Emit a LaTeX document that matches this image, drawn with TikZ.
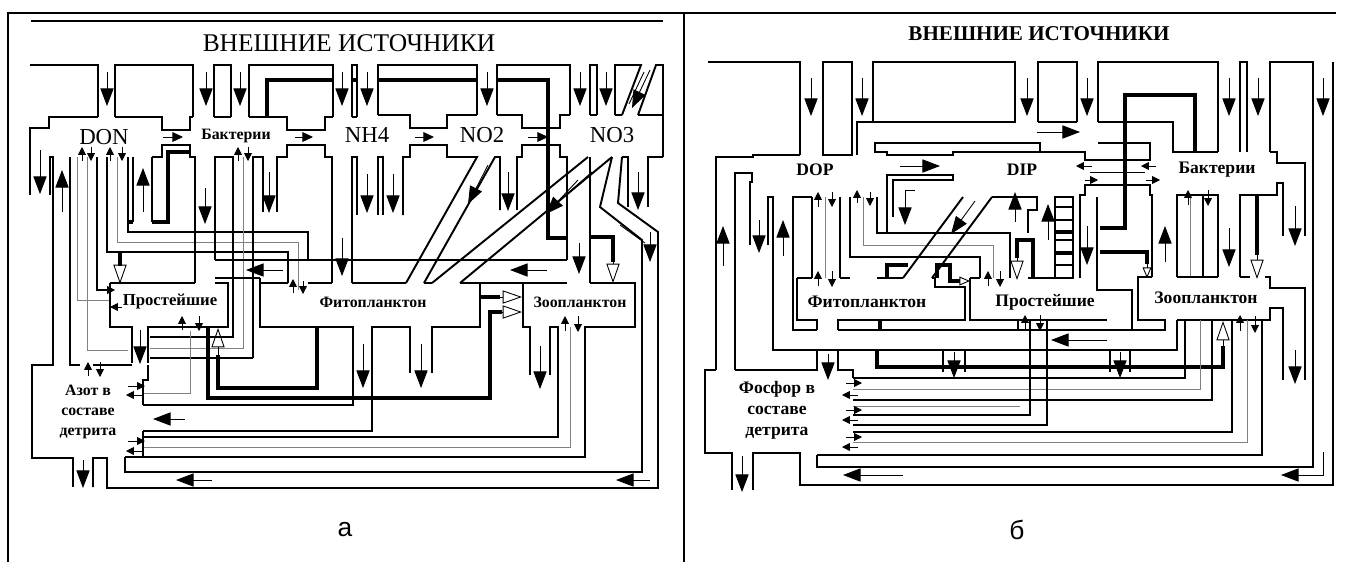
\documentclass[tikz,border=0pt]{standalone}
\usepackage{fontspec}
\setmainfont{Liberation Serif}
\setsansfont{Liberation Sans}
\usepackage{tikz}
\usetikzlibrary{arrows.meta}

\begin{document}
\begin{tikzpicture}[x=0.02cm, y=-0.02cm,
  wall/.style={line width=1.1pt},
  heavy/.style={line width=2.2pt},
  greyline/.style={line width=0.5pt, black!50},
  flow/.style={line width=0.5pt, -{Triangle[width=7.5pt,length=10pt]}},
  hollow/.style={line width=0.5pt, -{Triangle[open,width=7.5pt,length=11pt]}},
  smallhollow/.style={line width=0.5pt, -{Triangle[open,width=5pt,length=6pt]}},
  tick/.style={line width=0.5pt, -{Triangle[width=4.5pt,length=4.5pt]}},
  link/.style={line width=0.5pt, -{Triangle[width=5.5pt,length=6pt]}},
  lab/.style={inner sep=0pt, font=\bfseries\fontsize{9}{10}\selectfont},
  chem/.style={inner sep=0pt, font=\fontsize{13}{13}\selectfont}]
  \useasboundingbox (0,0) rectangle (1351,562);

  % Frame and headings
  \draw[wall] (8,562) -- (8,13) -- (1336,13);
  \draw[wall] (684,13) -- (684,562);
  \draw[wall] (31,21) -- (663,21);
  \node[inner sep=0pt, font=\fontsize{14.5}{15}\selectfont] (srcA) at (349,43) {ВНЕШНИЕ ИСТОЧНИКИ};
  \node[inner sep=0pt, font=\bfseries\fontsize{12}{12}\selectfont] (srcB) at (1039,34) {ВНЕШНИЕ ИСТОЧНИКИ};
  \node[inner sep=0pt, font=\sffamily\fontsize{15}{15}\selectfont] (capA) at (345,530) {а};
  \node[inner sep=0pt, font=\sffamily\fontsize{15}{15}\selectfont] (capB) at (1017,530) {б};

  % ===== Panel a: nitrogen =====
  % a: walls between the inputs
  \draw[wall] (30,65) -- (98,65) -- (98,117);
  \draw[wall] (115,117) -- (115,65) -- (193,65) -- (193,117);
  \draw[wall] (214,117) -- (214,65) -- (231,65) -- (231,117);
  \draw[wall] (249,117) -- (249,65) -- (333,65) -- (333,117);
  \draw[wall] (352,117) -- (352,65) -- (357,65) -- (357,117);
  \draw[wall] (378,115) -- (378,65) -- (477,65) -- (477,115);
  \draw[wall] (497,115) -- (497,65) -- (570,65) -- (570,115);
  \draw[wall] (590,115) -- (590,65) -- (597,65) -- (597,115);
  \draw[wall] (615,115) -- (615,65) -- (641,65) -- (622,115);
  \draw[wall] (638,115) -- (656,65) -- (663,65) -- (663,157);
  \foreach \x in {107,206,240,342,367,487,580,606}
    \draw[flow] (\x,72) -- (\x,106);
  \draw[flow] (650,70) -- (632,108);
  \draw[line width=0.5pt] (644,72) -- (629,104);
  \draw[heavy] (267,117) -- (267,80) -- (333,80);
  \draw[heavy] (352,80) -- (357,80);
  \draw[heavy] (378,80) -- (477,80);
  \draw[heavy] (497,80) -- (548,80) -- (548,238) -- (567,238);

  % a: top compartments, upper edge
  \draw[wall] (30,195) -- (30,128) -- (49,128) -- (49,117) -- (98,117);
  \draw[wall] (115,117) -- (162,117) -- (162,130) -- (190,130) -- (190,117) -- (193,117);
  \draw[wall] (214,117) -- (231,117);
  \draw[wall] (249,117) -- (287,117) -- (287,130) -- (325,130) -- (325,117) -- (333,117);
  \draw[wall] (352,117) -- (357,117);
  \draw[wall] (378,115) -- (410,115) -- (410,128) -- (447,128) -- (447,115) -- (477,115);
  \draw[wall] (497,115) -- (522,115) -- (522,128) -- (560,128) -- (560,115) -- (570,115);
  \draw[wall] (590,115) -- (597,115);
  \draw[wall] (615,115) -- (622,115);
  \draw[wall] (638,115) -- (663,115);

  % a: top compartments, lower edge and outflows
  \draw[wall] (50,195) -- (50,157) -- (53,157) -- (53,365) -- (32,365) -- (32,458) -- (73,458) -- (73,487);
  \draw[flow] (40,150) -- (40,194);
  \draw[flow] (62,212) -- (62,170);
  \draw[wall] (70,157) -- (70,365) -- (80,365);
  \draw[greyline] (77,157) -- (77,300) -- (110,300);
  \draw[greyline] (87,157) -- (87,350) -- (128,350);
  \draw[wall] (97,157) -- (97,290) -- (110,290);
  \draw[wall] (107,157) -- (107,252) -- (288,252) -- (288,283);
  \draw[greyline] (117,157) -- (117,242) -- (298,242) -- (298,290);
  \draw[wall] (128,157) -- (128,232) -- (308,232) -- (308,260);
  \draw[wall] (133,157) -- (133,222);
  \draw[wall] (152,157) -- (152,222);
  \draw[heavy] (127,222) -- (133,222);
  \draw[heavy] (152,222) -- (168,222) -- (168,152) -- (190,152);
  \draw[flow] (143,212) -- (143,168);
  \draw[tick] (82,161) -- (82,147);
  \draw[tick] (91,147) -- (91,161);
  \draw[tick] (110,161) -- (110,147);
  \draw[tick] (122,147) -- (122,161);
  \draw[wall] (152,157) -- (162,157) -- (162,145) -- (190,145) -- (190,157) -- (195,157) -- (195,283);
  \draw[wall] (215,260) -- (215,157) -- (233,157) -- (233,337) -- (150,337);
  \draw[greyline] (243,157) -- (243,348) -- (150,348);
  \draw[wall] (253,358) -- (253,157) -- (263,157) -- (263,212);
  \draw[wall] (150,358) -- (253,358);
  \draw[tick] (238,161) -- (238,147);
  \draw[tick] (248,147) -- (248,161);
  \draw[flow] (205,188) -- (205,224);
  \draw[flow] (269,172) -- (269,213);
  \draw[wall] (277,212) -- (277,157) -- (287,157) -- (287,145) -- (325,145) -- (325,157) -- (332,157) -- (332,283);
  \draw[wall] (352,283) -- (352,157) -- (357,157) -- (357,215);
  \draw[wall] (378,215) -- (378,157) -- (383,157) -- (383,215);
  \draw[wall] (403,215) -- (403,157) -- (410,157) -- (410,145) -- (447,145) -- (447,157) -- (477,157) -- (406,283);
  \draw[flow] (342,238) -- (342,276);
  \draw[flow] (367,174) -- (367,213);
  \draw[flow] (393,174) -- (393,213);
  \draw[wall] (424,283) -- (495,157) -- (500,157) -- (500,210);
  \draw[flow] (488,165) -- (468,204);
  \draw[flow] (508,172) -- (508,211);
  \draw[wall] (517,210) -- (517,157) -- (522,157) -- (522,145) -- (560,145) -- (560,157) -- (567,157) -- (567,260);
  \draw[wall] (590,283) -- (590,157);
  \draw[wall] (588,157) -- (432,283);
  \draw[wall] (612,157) -- (460,283);
  \draw[flow] (578,180) -- (546,214);
  \draw[line width=0.5pt] (592,172) -- (560,200);
  \draw[flow] (579,243) -- (579,274);
  \draw[heavy] (590,237) -- (613,237) -- (613,262);
  \draw[hollow] (613,262) -- (613,283);
  % a: zigzag outflow and outer return
  \draw[wall] (612,157) -- (600,207) -- (642,240) -- (642,472) -- (125,472) -- (125,457);
  \draw[wall] (622,157) -- (618,203) -- (658,232) -- (658,488) -- (107,488) -- (107,458) -- (93,458) -- (93,487);
  \draw[wall] (628,207) -- (628,157) -- (622,157);
  \draw[wall] (648,207) -- (648,157) -- (663,157);
  \draw[line width=0.5pt] (620,225) -- (645,243);
  \draw[flow] (638,172) -- (638,210);
  \draw[flow] (650,232) -- (650,262);
  \draw[flow] (83,460) -- (83,488);
  \draw[flow] (212,480) -- (176,480);
  \draw[flow] (650,480) -- (616,480);

  % a: middle horizontal channel
  \draw[wall] (215,260) -- (567,260);
  \draw[wall] (215,278) -- (260,278);
  \draw[flow] (283,270) -- (246,270);
  \draw[flow] (547,270) -- (510,270);

  % a: Простейшие
  \draw[wall] (110,283) -- (195,283);
  \draw[wall] (215,283) -- (228,283) -- (228,327) -- (148,327) -- (148,363);
  \draw[wall] (132,363) -- (132,327) -- (110,327) -- (110,283);
  \draw[heavy] (120,252) -- (120,266);
  \draw[hollow] (120,264) -- (120,284);
  \draw[tick] (103,290) -- (115,290);
  \draw[tick] (122,307) -- (110,307);
  \draw[tick] (182,330) -- (182,316);
  \draw[tick] (199,316) -- (199,331);
  \draw[flow] (140,330) -- (140,364);
  \draw[greyline] (190,331) -- (190,393) -- (143,393);
  \node[lab, font=\bfseries\fontsize{9.5}{10}\selectfont] (proA) at (170,302) {Простейшие};

  % a: Фитопланктон
  \draw[wall] (260,278) -- (260,327) -- (353,327) -- (353,405) -- (143,405);
  \draw[wall] (143,431) -- (372,431) -- (372,327) -- (410,327) -- (410,373);
  \draw[wall] (432,373) -- (432,327) -- (480,327) -- (480,283) -- (460,283);
  \draw[wall] (260,283) -- (288,283);
  \draw[wall] (308,283) -- (332,283);
  \draw[wall] (352,283) -- (406,283);
  \draw[wall] (424,283) -- (432,283);
  \draw[tick] (293,293) -- (293,279);
  \draw[tick] (303,281) -- (303,294);
  \draw[flow] (363,344) -- (363,388);
  \draw[flow] (421,344) -- (421,388);
  \draw[flow] (185,419) -- (153,419);
  \draw[heavy] (317,327) -- (317,388) -- (218,388) -- (218,355);
  \draw[hollow] (218,357) -- (218,328);
  \draw[heavy] (208,328) -- (208,398) -- (490,398) -- (490,312) -- (502,312);
  \draw[hollow] (500,312) -- (522,312);
  \draw[heavy] (480,297) -- (500,297);
  \draw[hollow] (498,297) -- (522,297);
  \node[lab] (phyA) at (373,302) {Фитопланктон};

  % a: Зоопланктон
  \draw[wall] (480,283) -- (567,283);
  \draw[wall] (590,283) -- (635,283) -- (635,327) -- (585,327) -- (585,457) -- (125,457);
  \draw[wall] (523,283) -- (523,327) -- (530,327) -- (530,375);
  \draw[wall] (550,375) -- (550,327) -- (558,327) -- (558,437) -- (143,437);
  \draw[greyline] (570,327) -- (570,447) -- (143,447);
  \draw[flow] (540,346) -- (540,389);
  \draw[tick] (565,331) -- (565,316);
  \draw[tick] (578,316) -- (578,332);
  \node[lab] (zooA) at (580,302) {Зоопланктон};

  % a: Азот в составе детрита
  \draw[wall] (132,365) -- (93,365);
  \draw[wall] (148,365) -- (148,380) -- (143,380) -- (143,405);
  \draw[wall] (143,431) -- (143,457);
  \draw[tick] (88,376) -- (88,362);
  \draw[tick] (100,362) -- (100,377);
  \draw[tick] (128,386) -- (145,386);
  \draw[tick] (143,395) -- (126,395);
  \draw[tick] (128,441) -- (145,441);
  \draw[tick] (143,451) -- (126,451);
  \node[lab, align=center, font=\bfseries\fontsize{9}{11.5}\selectfont] (detA) at (88,412) {Азот в\\составе\\детрита};

  % a: top labels
  \node[chem] (don) at (104,137) {DON};
  \node[lab] (bacA) at (236,136) {Бактерии};
  \node[chem] (nh4) at (367,135) {NH4};
  \node[chem] (no2) at (482,135) {NO2};
  \node[chem] (no3) at (612,135) {NO3};
  \draw[link] (163,137) -- (183,137);
  \draw[link] (295,137) -- (313,137);
  \draw[link] (415,137) -- (434,137);
  \draw[link] (528,137) -- (548,137);

  % ===== Panel b: phosphorus =====
  % b: walls between the inputs
  \draw[wall] (708,62) -- (800,62) -- (800,155);
  \draw[wall] (823,62) rectangle (852,155);
  \draw[wall] (873,62) rectangle (1015,122);
  \draw[wall] (1038,122) -- (1038,62) -- (1077,62) -- (1077,122);
  \draw[wall] (1098,122) -- (1098,62) -- (1218,62) -- (1218,152);
  \draw[wall] (1240,152) -- (1240,62) -- (1247,62) -- (1247,152);
  \draw[wall] (1270,152) -- (1270,62) -- (1313,62) -- (1313,467) -- (817,467) -- (817,455);
  \draw[wall] (1333,62) -- (1333,485) -- (800,485) -- (800,453) -- (753,453) -- (753,490);
  \foreach \x in {811,862,1027,1087,1229,1258,1323}
    \draw[flow] (\x,78) -- (\x,116);
  \draw[heavy] (1100,228) -- (1125,228) -- (1125,95) -- (1195,95) -- (1195,152);

  % b: channel DOP -> Бактерии
  \draw[wall] (857,155) -- (857,122) -- (873,122);
  \draw[wall] (1038,122) -- (1077,122);
  \draw[wall] (1098,122) -- (1173,122) -- (1173,152) -- (1218,152);
  \draw[wall] (875,143) -- (1040,143) -- (1040,152) -- (953,152) -- (953,155) -- (887,155) -- (887,152) -- (875,152) -- cycle;
  \draw[wall] (1040,152) -- (1085,152) -- (1085,160) -- (1150,160) -- (1150,143) -- (1098,143);
  \draw[flow] (1037,132) -- (1080,132);

  % b: DOP and DIP
  \draw[wall] (716,370) -- (716,157) -- (753,157) -- (753,155) -- (800,155);
  \draw[wall] (735,370) -- (735,173) -- (752,173) -- (752,182) -- (750,182) -- (750,245);
  \draw[wall] (768,245) -- (768,197) -- (773,197) -- (773,350) -- (1177,350) -- (1177,320);
  \draw[wall] (812,197) -- (793,197) -- (793,330) -- (817,330);
  \draw[flow] (723,266) -- (723,226);
  \draw[flow] (759,220) -- (759,253);
  \draw[flow] (783,256) -- (783,220);
  \draw[wall] (812,197) -- (812,278);
  \draw[greyline] (825,197) -- (825,278);
  \draw[wall] (840,197) -- (840,278);
  \draw[tick] (818,207) -- (818,192);
  \draw[tick] (832,192) -- (832,207);
  \draw[tick] (818,286) -- (818,271);
  \draw[tick] (832,271) -- (832,287);
  \draw[wall] (850,197) -- (850,257) -- (980,257) -- (980,278);
  \draw[greyline] (863,197) -- (863,245) -- (993,245) -- (993,278);
  \draw[wall] (877,197) -- (877,233) -- (1010,233) -- (1010,278);
  \draw[tick] (857,203) -- (857,190);
  \draw[tick] (870,192) -- (870,206);
  \draw[tick] (988,286) -- (988,271);
  \draw[tick] (1000,271) -- (1000,287);
  \draw[flow] (900,166) -- (940,166);
  \draw[wall] (887,233) -- (887,175) -- (953,175) -- (953,180) -- (893,180) -- (893,217);
  \draw[flow] (915,190) -- (905,190) -- (905,225);
  \draw[wall] (963,197) -- (903,278);
  \draw[wall] (992,197) -- (932,278);
  \draw[flow] (975,201) -- (951,234);
  \draw[wall] (992,197) -- (1037,197) -- (1037,210) -- (1028,210) -- (1028,233);
  \draw[flow] (1015,222) -- (1015,192);
  \draw[flow] (1048,240) -- (1048,204);
  \draw[wall] (1055,197) rectangle (1073,278);
  \foreach \y in {207,220,240,265}
    \draw[wall] (1055,\y) -- (1073,\y);
  \draw[heavy] (1055,232) -- (1073,232);
  \draw[heavy] (1055,253) -- (1073,253);
  \draw[wall] (1080,278) -- (1080,195) -- (1085,195) -- (1085,185) -- (1150,185) -- (1150,195) -- (1152,195) -- (1152,277);
  \draw[wall] (1097,197) -- (1097,278);
  \draw[flow] (1087,226) -- (1087,265);
  \draw[line width=0.5pt] (1090,172) -- (1145,172);
  \draw[tick] (1092,166) -- (1076,166);
  \draw[tick] (1156,166) -- (1141,166);
  \draw[tick] (1085,180) -- (1098,180);
  \draw[tick] (1146,180) -- (1160,180);
  \draw[heavy] (1033,278) -- (1033,240) -- (1017,240) -- (1017,258);
  \draw[hollow] (1017,256) -- (1017,280);
  \draw[heavy] (1100,252) -- (1147,252) -- (1147,264);
  \draw[smallhollow] (1147,264) -- (1147,278);
  \draw[heavy] (887,278) -- (887,265) -- (908,265);
  \draw[heavy] (937,278) -- (937,265) -- (950,265) -- (950,281) -- (960,281);
  \draw[smallhollow] (958,281) -- (970,281);
  \node[lab, font=\bfseries\fontsize{10}{10}\selectfont] (dop) at (815,170) {DOP};
  \node[lab, font=\bfseries\fontsize{10}{10}\selectfont] (dip) at (1022,170) {DIP};

  % b: Бактерии
  \draw[wall] (1270,152) -- (1277,152) -- (1277,163) -- (1305,163) -- (1305,236);
  \draw[wall] (1283,236) -- (1283,183) -- (1277,183) -- (1277,195) -- (1240,195) -- (1240,277);
  \draw[wall] (1218,277) -- (1218,195) -- (1177,195) -- (1177,277);
  \draw[greyline] (1190,195) -- (1190,277);
  \draw[wall] (1203,195) -- (1203,277);
  \draw[tick] (1188,205) -- (1188,190);
  \draw[tick] (1208,190) -- (1208,206);
  \draw[flow] (1165,262) -- (1165,226);
  \draw[flow] (1229,228) -- (1229,267);
  \draw[flow] (1295,206) -- (1295,246);
  \draw[heavy] (1257,195) -- (1257,255);
  \draw[hollow] (1257,254) -- (1257,279);
  \node[lab, font=\bfseries\fontsize{10}{10}\selectfont] (bacB) at (1217,170) {Бактерии};

  % b: Фитопланктон
  \draw[wall] (797,278) -- (797,320) -- (817,320) -- (817,330);
  \draw[wall] (838,330) -- (838,320) -- (965,320) -- (965,287) -- (935,287) -- (935,278) -- (932,278);
  \draw[wall] (797,278) -- (812,278);
  \draw[wall] (840,278) -- (850,278);
  \draw[wall] (877,278) -- (903,278);
  \draw[heavy] (880,320) -- (880,330);
  \node[lab, font=\bfseries\fontsize{10}{10}\selectfont] (phyB) at (867,302) {Фитопланктон};

  % b: Простейшие
  \draw[wall] (970,278) -- (970,320) -- (1018,320) -- (1018,330);
  \draw[wall] (838,330) -- (1165,330) -- (1165,320) -- (1138,320) -- (1138,277) -- (1152,277);
  \draw[wall] (970,278) -- (980,278);
  \draw[wall] (1028,278) -- (1055,278);
  \draw[wall] (1097,278) -- (1097,290) -- (1132,290) -- (1132,330);
  \draw[wall] (1018,320) -- (1107,320);
  \draw[flow] (1107,340) -- (1051,340);
  \draw[tick] (1025,331) -- (1025,315);
  \draw[tick] (1040,315) -- (1040,331);
  \node[lab, font=\bfseries\fontsize{10}{10}\selectfont] (proB) at (1045,302) {Простейшие};

  % b: Зоопланктон
  \draw[wall] (1177,277) -- (1218,277);
  \draw[wall] (1240,277) -- (1250,277);
  \draw[wall] (1265,277) -- (1270,277) -- (1270,288) -- (1305,288) -- (1305,380);
  \draw[wall] (1283,380) -- (1283,308) -- (1270,308) -- (1270,320) -- (1177,320);
  \draw[flow] (1295,350) -- (1295,384);
  \draw[tick] (1240,331) -- (1240,315);
  \draw[tick] (1255,316) -- (1255,333);
  \draw[heavy] (877,350) -- (877,367) -- (1223,367) -- (1223,346);
  \draw[hollow] (1223,348) -- (1223,321);
  \draw[wall] (943,350) -- (943,372);
  \draw[wall] (965,350) -- (965,372);
  \draw[flow] (954,352) -- (954,378);
  \draw[wall] (1110,350) -- (1110,372);
  \draw[wall] (1130,350) -- (1130,372);
  \draw[flow] (1120,352) -- (1120,378);
  \node[lab, font=\bfseries\fontsize{10}{10}\selectfont] (zooB) at (1206,298) {Зоопланктон};

  % b: returns to detritus
  \draw[wall] (1185,320) -- (1185,378) -- (853,378);
  \draw[greyline] (1200,320) -- (1200,389) -- (853,389);
  \draw[wall] (1212,320) -- (1212,400) -- (853,400);
  \draw[greyline] (1020,406) -- (853,406);
  \draw[wall] (1030,320) -- (1030,415) -- (853,415);
  \draw[wall] (1047,320) -- (1047,425) -- (853,425);
  \draw[wall] (1232,320) -- (1232,432) -- (853,432);
  \draw[greyline] (1247,320) -- (1247,442) -- (853,442);
  \draw[wall] (1262,320) -- (1262,455) -- (817,455);
  \draw[flow] (903,475) -- (843,475);
  \draw[line width=0.5pt] (1323,452) -- (1323,475) -- (1303,475);
  \draw[flow] (1305,475) -- (1281,475);

  % b: Фосфор в составе детрита
  \draw[wall] (716,370) -- (705,370) -- (705,453) -- (732,453) -- (732,490);
  \draw[wall] (735,370) -- (817,370) -- (817,350);
  \draw[wall] (838,350) -- (838,370) -- (853,370) -- (853,378);
  \draw[flow] (828,354) -- (828,380);
  \draw[flow] (742,456) -- (742,492);
  \draw[tick] (846,383) -- (862,383);
  \draw[tick] (858,395) -- (842,395);
  \draw[tick] (846,410) -- (862,410);
  \draw[tick] (858,420) -- (842,420);
  \draw[tick] (846,437) -- (862,437);
  \draw[tick] (858,447) -- (842,447);
  \node[lab, align=center, font=\bfseries\fontsize{10}{12}\selectfont] (detB) at (777,410) {Фосфор в\\составе\\детрита};
\end{tikzpicture}
\end{document}
